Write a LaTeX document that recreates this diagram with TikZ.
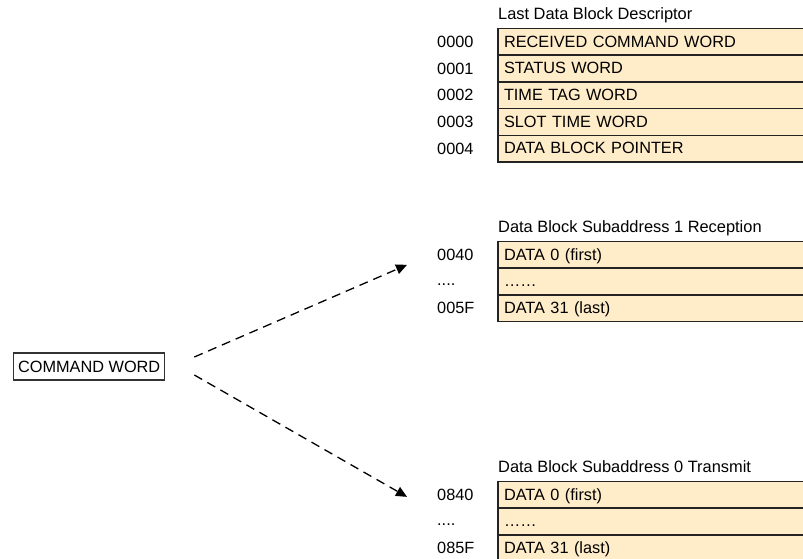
\documentclass[tikz,border=0pt]{standalone}
\usepackage{fontspec}
\setmainfont{Liberation Sans}
\usepackage{tikz}
\usetikzlibrary{arrows.meta, positioning, calc}
\definecolor{cellfill}{RGB}{255,236,200}
\definecolor{cellline}{RGB}{35,35,35}
\tikzstyle{arrow} = [line width=1.3pt, dash pattern=on 9pt off 6pt, -{Triangle[length=11pt,width=10pt]}]

\begin{document}
\begin{tikzpicture}[
    x=1pt, y=-1pt,
    cell/.style={rectangle, draw=cellline, line width=1.6pt, fill=cellfill,
                 text width=298pt, align=left, minimum height=26.7pt,
                 text height=11pt, text depth=0.5pt,
                 inner xsep=6pt, inner ysep=0pt, outer sep=0pt,
                 font=\fontsize{16.3}{19}\selectfont},
    addr/.style={font=\fontsize{16.3}{19}\selectfont, inner sep=0pt, anchor=west},
    blocktitle/.style={font=\fontsize{16.4}{19}\selectfont, inner sep=0pt, anchor=west},
    cmdbox/.style={rectangle, draw=black!80, line width=1.2pt, fill=white,
                   minimum height=27pt, inner xsep=4.5pt, inner ysep=0pt,
                   font=\fontsize{16.3}{19}\selectfont},
    node distance=0pt
]
\useasboundingbox (0,0) rectangle (803,558);

% --- Last Data Block Descriptor ---
\node[cell, anchor=north west] (d0) at (498,28.5) {RECEIVED COMMAND WORD};
\node[cell, below=of d0] (d1) {STATUS WORD};
\node[cell, below=of d1] (d2) {TIME TAG WORD};
\node[cell, below=of d2] (d3) {SLOT TIME WORD};
\node[cell, below=of d3] (d4) {DATA BLOCK POINTER};
\node[blocktitle] (desc_t) at ([yshift=13.5pt]d0.north west) {Last Data Block Descriptor};
\node[addr] (a0) at ([xshift=-61pt]d0.west) {0000};
\node[addr] (a1) at ([xshift=-61pt]d1.west) {0001};
\node[addr] (a2) at ([xshift=-61pt]d2.west) {0002};
\node[addr] (a3) at ([xshift=-61pt]d3.west) {0003};
\node[addr] (a4) at ([xshift=-61pt]d4.west) {0004};

% --- Data Block Subaddress 1 Reception ---
\node[cell, anchor=north west] (r0) at (498,241.5) {DATA 0 (first)};
\node[cell, below=of r0] (r1) {\ldots\ldots};
\node[cell, below=of r1] (r2) {DATA 31 (last)};
\node[blocktitle] (rx_t) at ([yshift=13.5pt]r0.north west) {Data Block Subaddress 1 Reception};
\node[addr] (ra0) at ([xshift=-61pt]r0.west) {0040};
\node[addr] (ra1) at ([xshift=-61pt,yshift=-3.5pt]r1.west) {....};
\node[addr] (ra2) at ([xshift=-61pt]r2.west) {005F};

% --- Data Block Subaddress 0 Transmit ---
\node[cell, anchor=north west] (t0) at (498,481.5) {DATA 0 (first)};
\node[cell, below=of t0] (t1) {\ldots\ldots};
\node[cell, below=of t1] (t2) {DATA 31 (last)};
\node[blocktitle] (tx_t) at ([yshift=14.5pt]t0.north west) {Data Block Subaddress 0 Transmit};
\node[addr] (ta0) at ([xshift=-61pt]t0.west) {0840};
\node[addr] (ta1) at ([xshift=-61pt,yshift=-3.5pt]t1.west) {....};
\node[addr] (ta2) at ([xshift=-61pt]t2.west) {085F};

% --- Command word and its dashed pointers ---
\node[cmdbox, anchor=west] (cmd) at (13,366.5) {COMMAND WORD};
\coordinate (rx_in) at ([xshift=-91pt,yshift=-10pt]r0.west);
\coordinate (tx_in) at ([xshift=-91pt,yshift=-2pt]t0.west);
\draw[arrow] ([xshift=29pt,yshift=9.5pt]cmd.east) -- (rx_in);
\draw[arrow] ([xshift=29pt,yshift=-8.5pt]cmd.east) -- (tx_in);

\end{tikzpicture}
\end{document}
